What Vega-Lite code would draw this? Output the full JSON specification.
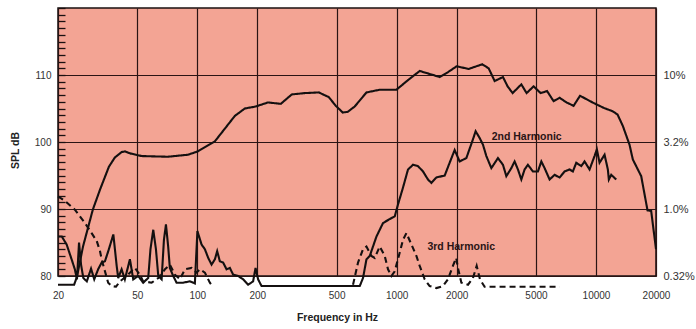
{
  "$schema": "https://vega.github.io/schema/vega-lite/v6.json",
  "width": 598,
  "height": 268,
  "autosize": "none",
  "padding": {"left": 58, "top": 8, "right": 40, "bottom": 53},
  "background": "#ffffff",
  "config": {
    "view": {"fill": "#f3a494", "stroke": "#1a1010", "strokeWidth": 1.5},
    "font": "Liberation Sans"
  },
  "datasets": {
    "curves": [
      {"series":"Response","seg":"main","freq":20,"spl":78.7},
      {"series":"Response","seg":"main","freq":24.1,"spl":78.7},
      {"series":"Response","seg":"main","freq":24.9,"spl":79.9},
      {"series":"Response","seg":"main","freq":26.7,"spl":84.4},
      {"series":"Response","seg":"main","freq":29.9,"spl":89.9},
      {"series":"Response","seg":"main","freq":32.5,"spl":92.9},
      {"series":"Response","seg":"main","freq":36,"spl":96.3},
      {"series":"Response","seg":"main","freq":38.6,"spl":97.7},
      {"series":"Response","seg":"main","freq":41.7,"spl":98.5},
      {"series":"Response","seg":"main","freq":43.3,"spl":98.6},
      {"series":"Response","seg":"main","freq":46,"spl":98.3},
      {"series":"Response","seg":"main","freq":52.6,"spl":97.9},
      {"series":"Response","seg":"main","freq":71.2,"spl":97.8},
      {"series":"Response","seg":"main","freq":89.7,"spl":98.1},
      {"series":"Response","seg":"main","freq":100.6,"spl":98.6},
      {"series":"Response","seg":"main","freq":113,"spl":99.5},
      {"series":"Response","seg":"main","freq":122.5,"spl":100.1},
      {"series":"Response","seg":"main","freq":154.3,"spl":103.9},
      {"series":"Response","seg":"main","freq":173.1,"spl":105.0},
      {"series":"Response","seg":"main","freq":196.6,"spl":105.3},
      {"series":"Response","seg":"main","freq":225.8,"spl":105.9},
      {"series":"Response","seg":"main","freq":262.4,"spl":105.7},
      {"series":"Response","seg":"main","freq":297.8,"spl":107.1},
      {"series":"Response","seg":"main","freq":346,"spl":107.3},
      {"series":"Response","seg":"main","freq":406.8,"spl":107.4},
      {"series":"Response","seg":"main","freq":456.6,"spl":106.7},
      {"series":"Response","seg":"main","freq":495,"spl":105.4},
      {"series":"Response","seg":"main","freq":536.6,"spl":104.4},
      {"series":"Response","seg":"main","freq":568,"spl":104.5},
      {"series":"Response","seg":"main","freq":616,"spl":105.3},
      {"series":"Response","seg":"main","freq":705.6,"spl":107.4},
      {"series":"Response","seg":"main","freq":822,"spl":107.8},
      {"series":"Response","seg":"main","freq":997,"spl":107.8},
      {"series":"Response","seg":"main","freq":1136,"spl":109.2},
      {"series":"Response","seg":"main","freq":1305,"spl":110.6},
      {"series":"Response","seg":"main","freq":1644,"spl":109.7},
      {"series":"Response","seg":"main","freq":1803,"spl":110.4},
      {"series":"Response","seg":"main","freq":2000,"spl":111.3},
      {"series":"Response","seg":"main","freq":2297,"spl":110.9},
      {"series":"Response","seg":"main","freq":2685,"spl":111.6},
      {"series":"Response","seg":"main","freq":2894,"spl":111.0},
      {"series":"Response","seg":"main","freq":3102,"spl":109.1},
      {"series":"Response","seg":"main","freq":3414,"spl":109.7},
      {"series":"Response","seg":"main","freq":3603,"spl":108.3},
      {"series":"Response","seg":"main","freq":3817,"spl":107.3},
      {"series":"Response","seg":"main","freq":4221,"spl":108.6},
      {"series":"Response","seg":"main","freq":4486,"spl":107.3},
      {"series":"Response","seg":"main","freq":4864,"spl":108.3},
      {"series":"Response","seg":"main","freq":5276,"spl":107.3},
      {"series":"Response","seg":"main","freq":5684,"spl":107.6},
      {"series":"Response","seg":"main","freq":6127,"spl":106.1},
      {"series":"Response","seg":"main","freq":6568,"spl":106.6},
      {"series":"Response","seg":"main","freq":7118,"spl":105.9},
      {"series":"Response","seg":"main","freq":7718,"spl":105.4},
      {"series":"Response","seg":"main","freq":8318,"spl":106.9},
      {"series":"Response","seg":"main","freq":9612,"spl":105.9},
      {"series":"Response","seg":"main","freq":10913,"spl":105.1},
      {"series":"Response","seg":"main","freq":12106,"spl":104.6},
      {"series":"Response","seg":"main","freq":12826,"spl":104.1},
      {"series":"Response","seg":"main","freq":13634,"spl":102.4},
      {"series":"Response","seg":"main","freq":14728,"spl":99.6},
      {"series":"Response","seg":"main","freq":15300,"spl":97.4},
      {"series":"Response","seg":"main","freq":16860,"spl":94.9},
      {"series":"Response","seg":"main","freq":18132,"spl":89.8},
      {"series":"Response","seg":"main","freq":18918,"spl":89.7},
      {"series":"Response","seg":"main","freq":20000,"spl":84.0},

      {"series":"2nd Harmonic","seg":"h2","freq":20,"spl":85.9},
      {"series":"2nd Harmonic","seg":"h2","freq":20.9,"spl":85.9},
      {"series":"2nd Harmonic","seg":"h2","freq":22.1,"spl":84.7},
      {"series":"2nd Harmonic","seg":"h2","freq":23.4,"spl":82.5},
      {"series":"2nd Harmonic","seg":"h2","freq":24.3,"spl":81.0},
      {"series":"2nd Harmonic","seg":"h2","freq":24.9,"spl":79.5},
      {"series":"2nd Harmonic","seg":"h2","freq":25.5,"spl":85.0},
      {"series":"2nd Harmonic","seg":"h2","freq":26.1,"spl":81.7},
      {"series":"2nd Harmonic","seg":"h2","freq":26.8,"spl":79.7},
      {"series":"2nd Harmonic","seg":"h2","freq":27.9,"spl":79.2},
      {"series":"2nd Harmonic","seg":"h2","freq":29.3,"spl":81.1},
      {"series":"2nd Harmonic","seg":"h2","freq":30.4,"spl":79.5},
      {"series":"2nd Harmonic","seg":"h2","freq":31.8,"spl":81.0},
      {"series":"2nd Harmonic","seg":"h2","freq":33.1,"spl":82.0},
      {"series":"2nd Harmonic","seg":"h2","freq":34.4,"spl":82.2},
      {"series":"2nd Harmonic","seg":"h2","freq":36.0,"spl":84.0},
      {"series":"2nd Harmonic","seg":"h2","freq":37.9,"spl":86.2},
      {"series":"2nd Harmonic","seg":"h2","freq":39.4,"spl":81.5},
      {"series":"2nd Harmonic","seg":"h2","freq":40.1,"spl":79.7},
      {"series":"2nd Harmonic","seg":"h2","freq":41.7,"spl":81.0},
      {"series":"2nd Harmonic","seg":"h2","freq":43.3,"spl":79.5},
      {"series":"2nd Harmonic","seg":"h2","freq":45.9,"spl":82.5},
      {"series":"2nd Harmonic","seg":"h2","freq":47.7,"spl":79.5},
      {"series":"2nd Harmonic","seg":"h2","freq":50.5,"spl":80.0},
      {"series":"2nd Harmonic","seg":"h2","freq":53.5,"spl":79.0},
      {"series":"2nd Harmonic","seg":"h2","freq":56.7,"spl":79.7},
      {"series":"2nd Harmonic","seg":"h2","freq":58.2,"spl":84.0},
      {"series":"2nd Harmonic","seg":"h2","freq":60.1,"spl":86.9},
      {"series":"2nd Harmonic","seg":"h2","freq":62.0,"spl":84.0},
      {"series":"2nd Harmonic","seg":"h2","freq":63.7,"spl":80.0},
      {"series":"2nd Harmonic","seg":"h2","freq":66.2,"spl":79.5},
      {"series":"2nd Harmonic","seg":"h2","freq":68.0,"spl":85.4},
      {"series":"2nd Harmonic","seg":"h2","freq":69.6,"spl":87.7},
      {"series":"2nd Harmonic","seg":"h2","freq":71.4,"spl":84.4},
      {"series":"2nd Harmonic","seg":"h2","freq":72.8,"spl":81.2},
      {"series":"2nd Harmonic","seg":"h2","freq":75.7,"spl":80.0},
      {"series":"2nd Harmonic","seg":"h2","freq":78.7,"spl":79.0},
      {"series":"2nd Harmonic","seg":"h2","freq":84.9,"spl":79.0},
      {"series":"2nd Harmonic","seg":"h2","freq":91.8,"spl":79.2},
      {"series":"2nd Harmonic","seg":"h2","freq":97.2,"spl":78.9},
      {"series":"2nd Harmonic","seg":"h2","freq":100.1,"spl":86.7},
      {"series":"2nd Harmonic","seg":"h2","freq":105.0,"spl":84.7},
      {"series":"2nd Harmonic","seg":"h2","freq":109.1,"spl":84.0},
      {"series":"2nd Harmonic","seg":"h2","freq":113.4,"spl":82.7},
      {"series":"2nd Harmonic","seg":"h2","freq":117.9,"spl":81.7},
      {"series":"2nd Harmonic","seg":"h2","freq":122.5,"spl":82.5},
      {"series":"2nd Harmonic","seg":"h2","freq":125.8,"spl":83.7},
      {"series":"2nd Harmonic","seg":"h2","freq":129.7,"spl":82.2},
      {"series":"2nd Harmonic","seg":"h2","freq":134.8,"spl":82.0},
      {"series":"2nd Harmonic","seg":"h2","freq":140.1,"spl":81.0},
      {"series":"2nd Harmonic","seg":"h2","freq":145.6,"spl":81.2},
      {"series":"2nd Harmonic","seg":"h2","freq":151.3,"spl":80.2},
      {"series":"2nd Harmonic","seg":"h2","freq":160.2,"spl":80.0},
      {"series":"2nd Harmonic","seg":"h2","freq":169.8,"spl":79.5},
      {"series":"2nd Harmonic","seg":"h2","freq":179.9,"spl":78.7},
      {"series":"2nd Harmonic","seg":"h2","freq":190.5,"spl":79.2},
      {"series":"2nd Harmonic","seg":"h2","freq":195.9,"spl":81.2},
      {"series":"2nd Harmonic","seg":"h2","freq":201.8,"spl":79.5},
      {"series":"2nd Harmonic","seg":"h2","freq":210,"spl":78.5},
      {"series":"2nd Harmonic","seg":"h2","freq":653,"spl":78.5},
      {"series":"2nd Harmonic","seg":"h2","freq":678,"spl":79.7},
      {"series":"2nd Harmonic","seg":"h2","freq":705.6,"spl":82.5},
      {"series":"2nd Harmonic","seg":"h2","freq":733,"spl":83.0},
      {"series":"2nd Harmonic","seg":"h2","freq":792,"spl":85.9},
      {"series":"2nd Harmonic","seg":"h2","freq":854,"spl":87.9},
      {"series":"2nd Harmonic","seg":"h2","freq":923,"spl":88.5},
      {"series":"2nd Harmonic","seg":"h2","freq":978,"spl":88.9},
      {"series":"2nd Harmonic","seg":"h2","freq":1016,"spl":90.7},
      {"series":"2nd Harmonic","seg":"h2","freq":1076,"spl":93.2},
      {"series":"2nd Harmonic","seg":"h2","freq":1140,"spl":95.9},
      {"series":"2nd Harmonic","seg":"h2","freq":1208,"spl":96.6},
      {"series":"2nd Harmonic","seg":"h2","freq":1279,"spl":96.4},
      {"series":"2nd Harmonic","seg":"h2","freq":1356,"spl":95.6},
      {"series":"2nd Harmonic","seg":"h2","freq":1436,"spl":94.4},
      {"series":"2nd Harmonic","seg":"h2","freq":1493,"spl":93.9},
      {"series":"2nd Harmonic","seg":"h2","freq":1582,"spl":94.7},
      {"series":"2nd Harmonic","seg":"h2","freq":1742,"spl":95.0},
      {"series":"2nd Harmonic","seg":"h2","freq":1844,"spl":96.9},
      {"series":"2nd Harmonic","seg":"h2","freq":1954,"spl":98.8},
      {"series":"2nd Harmonic","seg":"h2","freq":2070,"spl":97.1},
      {"series":"2nd Harmonic","seg":"h2","freq":2237,"spl":97.6},
      {"series":"2nd Harmonic","seg":"h2","freq":2414,"spl":100.4},
      {"series":"2nd Harmonic","seg":"h2","freq":2490,"spl":101.6},
      {"series":"2nd Harmonic","seg":"h2","freq":2608,"spl":100.6},
      {"series":"2nd Harmonic","seg":"h2","freq":2710,"spl":99.6},
      {"series":"2nd Harmonic","seg":"h2","freq":2818,"spl":97.9},
      {"series":"2nd Harmonic","seg":"h2","freq":2986,"spl":96.1},
      {"series":"2nd Harmonic","seg":"h2","freq":3222,"spl":97.6},
      {"series":"2nd Harmonic","seg":"h2","freq":3414,"spl":96.6},
      {"series":"2nd Harmonic","seg":"h2","freq":3550,"spl":94.9},
      {"series":"2nd Harmonic","seg":"h2","freq":3760,"spl":96.1},
      {"series":"2nd Harmonic","seg":"h2","freq":3906,"spl":97.1},
      {"series":"2nd Harmonic","seg":"h2","freq":4059,"spl":95.9},
      {"series":"2nd Harmonic","seg":"h2","freq":4221,"spl":94.4},
      {"series":"2nd Harmonic","seg":"h2","freq":4384,"spl":95.9},
      {"series":"2nd Harmonic","seg":"h2","freq":4555,"spl":96.6},
      {"series":"2nd Harmonic","seg":"h2","freq":4826,"spl":95.6},
      {"series":"2nd Harmonic","seg":"h2","freq":5113,"spl":95.6},
      {"series":"2nd Harmonic","seg":"h2","freq":5318,"spl":97.1},
      {"series":"2nd Harmonic","seg":"h2","freq":5524,"spl":96.1},
      {"series":"2nd Harmonic","seg":"h2","freq":5852,"spl":94.4},
      {"series":"2nd Harmonic","seg":"h2","freq":6198,"spl":95.1},
      {"series":"2nd Harmonic","seg":"h2","freq":6568,"spl":94.7},
      {"series":"2nd Harmonic","seg":"h2","freq":6957,"spl":95.6},
      {"series":"2nd Harmonic","seg":"h2","freq":7370,"spl":95.9},
      {"series":"2nd Harmonic","seg":"h2","freq":7656,"spl":95.6},
      {"series":"2nd Harmonic","seg":"h2","freq":7962,"spl":96.9},
      {"series":"2nd Harmonic","seg":"h2","freq":8436,"spl":96.4},
      {"series":"2nd Harmonic","seg":"h2","freq":8763,"spl":97.1},
      {"series":"2nd Harmonic","seg":"h2","freq":9284,"spl":95.9},
      {"series":"2nd Harmonic","seg":"h2","freq":9834,"spl":97.9},
      {"series":"2nd Harmonic","seg":"h2","freq":10100,"spl":98.9},
      {"series":"2nd Harmonic","seg":"h2","freq":10420,"spl":96.9},
      {"series":"2nd Harmonic","seg":"h2","freq":11040,"spl":98.1},
      {"series":"2nd Harmonic","seg":"h2","freq":11468,"spl":95.9},
      {"series":"2nd Harmonic","seg":"h2","freq":11600,"spl":94.4},
      {"series":"2nd Harmonic","seg":"h2","freq":11926,"spl":95.1},
      {"series":"2nd Harmonic","seg":"h2","freq":12634,"spl":94.4},

      {"series":"3rd Harmonic","seg":"h3a","freq":20,"spl":91.9},
      {"series":"3rd Harmonic","seg":"h3a","freq":21.7,"spl":91.2},
      {"series":"3rd Harmonic","seg":"h3a","freq":24.3,"spl":89.9},
      {"series":"3rd Harmonic","seg":"h3a","freq":27.3,"spl":87.9},
      {"series":"3rd Harmonic","seg":"h3a","freq":29.5,"spl":86.4},
      {"series":"3rd Harmonic","seg":"h3a","freq":31.3,"spl":85.2},
      {"series":"3rd Harmonic","seg":"h3a","freq":32.5,"spl":83.7},
      {"series":"3rd Harmonic","seg":"h3a","freq":33.1,"spl":82.5},
      {"series":"3rd Harmonic","seg":"h3a","freq":34.4,"spl":80.7},
      {"series":"3rd Harmonic","seg":"h3a","freq":35.7,"spl":79.0},
      {"series":"3rd Harmonic","seg":"h3a","freq":37.2,"spl":78.5},
      {"series":"3rd Harmonic","seg":"h3a","freq":39.1,"spl":78.4},
      {"series":"3rd Harmonic","seg":"h3a","freq":40.9,"spl":79.2},
      {"series":"3rd Harmonic","seg":"h3a","freq":44.2,"spl":80.0},
      {"series":"3rd Harmonic","seg":"h3a","freq":48.6,"spl":81.2},
      {"series":"3rd Harmonic","seg":"h3a","freq":51.5,"spl":80.2},
      {"series":"3rd Harmonic","seg":"h3a","freq":53.5,"spl":79.2},
      {"series":"3rd Harmonic","seg":"h3a","freq":59.0,"spl":79.0},
      {"series":"3rd Harmonic","seg":"h3a","freq":63.7,"spl":79.7},
      {"series":"3rd Harmonic","seg":"h3a","freq":68.8,"spl":81.0},
      {"series":"3rd Harmonic","seg":"h3a","freq":72.8,"spl":81.7},
      {"series":"3rd Harmonic","seg":"h3a","freq":77.2,"spl":80.2},
      {"series":"3rd Harmonic","seg":"h3a","freq":81.8,"spl":79.5},
      {"series":"3rd Harmonic","seg":"h3a","freq":86.6,"spl":81.0},
      {"series":"3rd Harmonic","seg":"h3a","freq":93.6,"spl":81.2},
      {"series":"3rd Harmonic","seg":"h3a","freq":99.2,"spl":80.5},
      {"series":"3rd Harmonic","seg":"h3a","freq":103.0,"spl":81.0},
      {"series":"3rd Harmonic","seg":"h3a","freq":109.1,"spl":80.5},
      {"series":"3rd Harmonic","seg":"h3a","freq":115.6,"spl":79.0},
      {"series":"3rd Harmonic","seg":"h3a","freq":119.7,"spl":78.4},

      {"series":"3rd Harmonic","seg":"h3b","freq":604,"spl":78.7},
      {"series":"3rd Harmonic","seg":"h3b","freq":640,"spl":82.0},
      {"series":"3rd Harmonic","seg":"h3b","freq":678,"spl":84.0},
      {"series":"3rd Harmonic","seg":"h3b","freq":705.6,"spl":84.4},
      {"series":"3rd Harmonic","seg":"h3b","freq":747,"spl":83.0},
      {"series":"3rd Harmonic","seg":"h3b","freq":776,"spl":82.7},
      {"series":"3rd Harmonic","seg":"h3b","freq":822,"spl":84.4},
      {"series":"3rd Harmonic","seg":"h3b","freq":871,"spl":83.0},
      {"series":"3rd Harmonic","seg":"h3b","freq":905,"spl":81.0},
      {"series":"3rd Harmonic","seg":"h3b","freq":941,"spl":80.0},
      {"series":"3rd Harmonic","seg":"h3b","freq":978,"spl":80.7},
      {"series":"3rd Harmonic","seg":"h3b","freq":1036,"spl":83.5},
      {"series":"3rd Harmonic","seg":"h3b","freq":1076,"spl":85.4},
      {"series":"3rd Harmonic","seg":"h3b","freq":1119,"spl":86.4},
      {"series":"3rd Harmonic","seg":"h3b","freq":1186,"spl":84.7},
      {"series":"3rd Harmonic","seg":"h3b","freq":1256,"spl":83.0},
      {"series":"3rd Harmonic","seg":"h3b","freq":1305,"spl":81.5},
      {"series":"3rd Harmonic","seg":"h3b","freq":1382,"spl":79.5},
      {"series":"3rd Harmonic","seg":"h3b","freq":1464,"spl":78.5},
      {"series":"3rd Harmonic","seg":"h3b","freq":1582,"spl":78.2},
      {"series":"3rd Harmonic","seg":"h3b","freq":1708,"spl":78.5},
      {"series":"3rd Harmonic","seg":"h3b","freq":1808,"spl":79.5},
      {"series":"3rd Harmonic","seg":"h3b","freq":1915,"spl":81.5},
      {"series":"3rd Harmonic","seg":"h3b","freq":1989,"spl":82.7},
      {"series":"3rd Harmonic","seg":"h3b","freq":2030,"spl":81.2},
      {"series":"3rd Harmonic","seg":"h3b","freq":2112,"spl":79.0},
      {"series":"3rd Harmonic","seg":"h3b","freq":2280,"spl":78.7},
      {"series":"3rd Harmonic","seg":"h3b","freq":2414,"spl":79.7},
      {"series":"3rd Harmonic","seg":"h3b","freq":2520,"spl":81.5},
      {"series":"3rd Harmonic","seg":"h3b","freq":2618,"spl":79.5},
      {"series":"3rd Harmonic","seg":"h3b","freq":2762,"spl":78.4},
      {"series":"3rd Harmonic","seg":"h3b","freq":6568,"spl":78.4}
    ],
    "notes": [
      {"label": "2nd Harmonic", "freq": 2996, "spl": 100.8},
      {"label": "3rd Harmonic", "freq": 1426, "spl": 84.4}
    ]
  },
  "resolve": {"axis": {"y": "independent"}},
  "layer": [
    {
      "data": {"name": "notes"},
      "mark": {"type": "text", "align": "left", "baseline": "middle", "font": "Liberation Sans", "fontWeight": "bold", "fontSize": 10.5, "color": "#2a1414"},
      "encoding": {
        "x": {
          "field": "freq", "type": "quantitative",
          "scale": {"type": "log", "domain": [20, 20000], "nice": false},
          "axis": {
            "values": [20, 50, 100, 200, 500, 1000, 2000, 5000, 10000, 20000],
            "format": "d",
            "grid": true, "gridColor": "#2a1414", "gridWidth": 1.2, "gridOpacity": 1,
            "ticks": false, "domain": false,
            "labelPadding": 14, "labelFontSize": 10, "labelColor": "#333333",
            "labelFont": "Liberation Sans", "labelFlush": false,
            "title": "Frequency in Hz", "titleFontSize": 10.5, "titleFontWeight": "bold",
            "titleFont": "Liberation Sans", "titleColor": "#222222",
            "titleX": 279, "titleY": 36, "titleBaseline": "top", "titleAnchor": "middle"
          }
        },
        "y": {
          "field": "spl", "type": "quantitative",
          "scale": {"domain": [80, 120], "nice": false, "zero": false},
          "axis": {
            "orient": "left",
            "offset": -7,
            "values": [80,81,82,83,84,85,86,87,88,89,90,91,92,93,94,95,96,97,98,99,100,101,102,103,104,105,106,107,108,109,110,111,112,113,114,115,116,117,118,119,120],
            "labelOpacity": {"condition": {"test": "datum.value % 10 === 0 && datum.value < 120", "value": 1}, "value": 0},
            "labelOverlap": false,
            "grid": false, "domain": false,
            "ticks": true, "tickSize": 7, "tickColor": "#1a1010", "tickWidth": 1.3,
            "labelPadding": 7, "labelFontSize": 10, "labelColor": "#333333",
            "labelFont": "Liberation Sans",
            "title": "SPL dB", "titleFontSize": 10.5, "titleFontWeight": "bold",
            "titleFont": "Liberation Sans", "titleColor": "#222222",
            "titleAngle": -90, "titleX": -45, "titleY": 142, "titleBaseline": "bottom", "titleAnchor": "middle"
          }
        },
        "text": {"field": "label", "type": "nominal"}
      }
    },
    {
      "data": {"name": "curves"},
      "mark": {"type": "line", "color": "#141010", "strokeWidth": 2.1, "interpolate": "linear"},
      "encoding": {
        "x": {"field": "freq", "type": "quantitative", "scale": {"type": "log", "domain": [20, 20000], "nice": false}},
        "y": {
          "field": "spl", "type": "quantitative",
          "scale": {"domain": [80, 120], "nice": false, "zero": false},
          "axis": {
            "orient": "right",
            "values": [80, 90, 100, 110],
            "labelExpr": "datum.value === 110 ? '10%' : datum.value === 100 ? '3.2%' : datum.value === 90 ? '1.0%' : '0.32%'",
            "grid": true, "gridColor": "#2a1414", "gridWidth": 1.2, "gridOpacity": 1,
            "ticks": false, "domain": false,
            "labelPadding": 7, "labelFontSize": 11, "labelColor": "#333333",
            "labelFont": "Liberation Sans", "labelAlign": "left",
            "title": null
          }
        },
        "strokeDash": {
          "field": "series", "type": "nominal",
          "scale": {"domain": ["Response", "2nd Harmonic", "3rd Harmonic"], "range": [[1, 0], [1, 0], [6, 4]]},
          "legend": null
        },
        "detail": {"field": "seg", "type": "nominal"}
      }
    }
  ]
}
